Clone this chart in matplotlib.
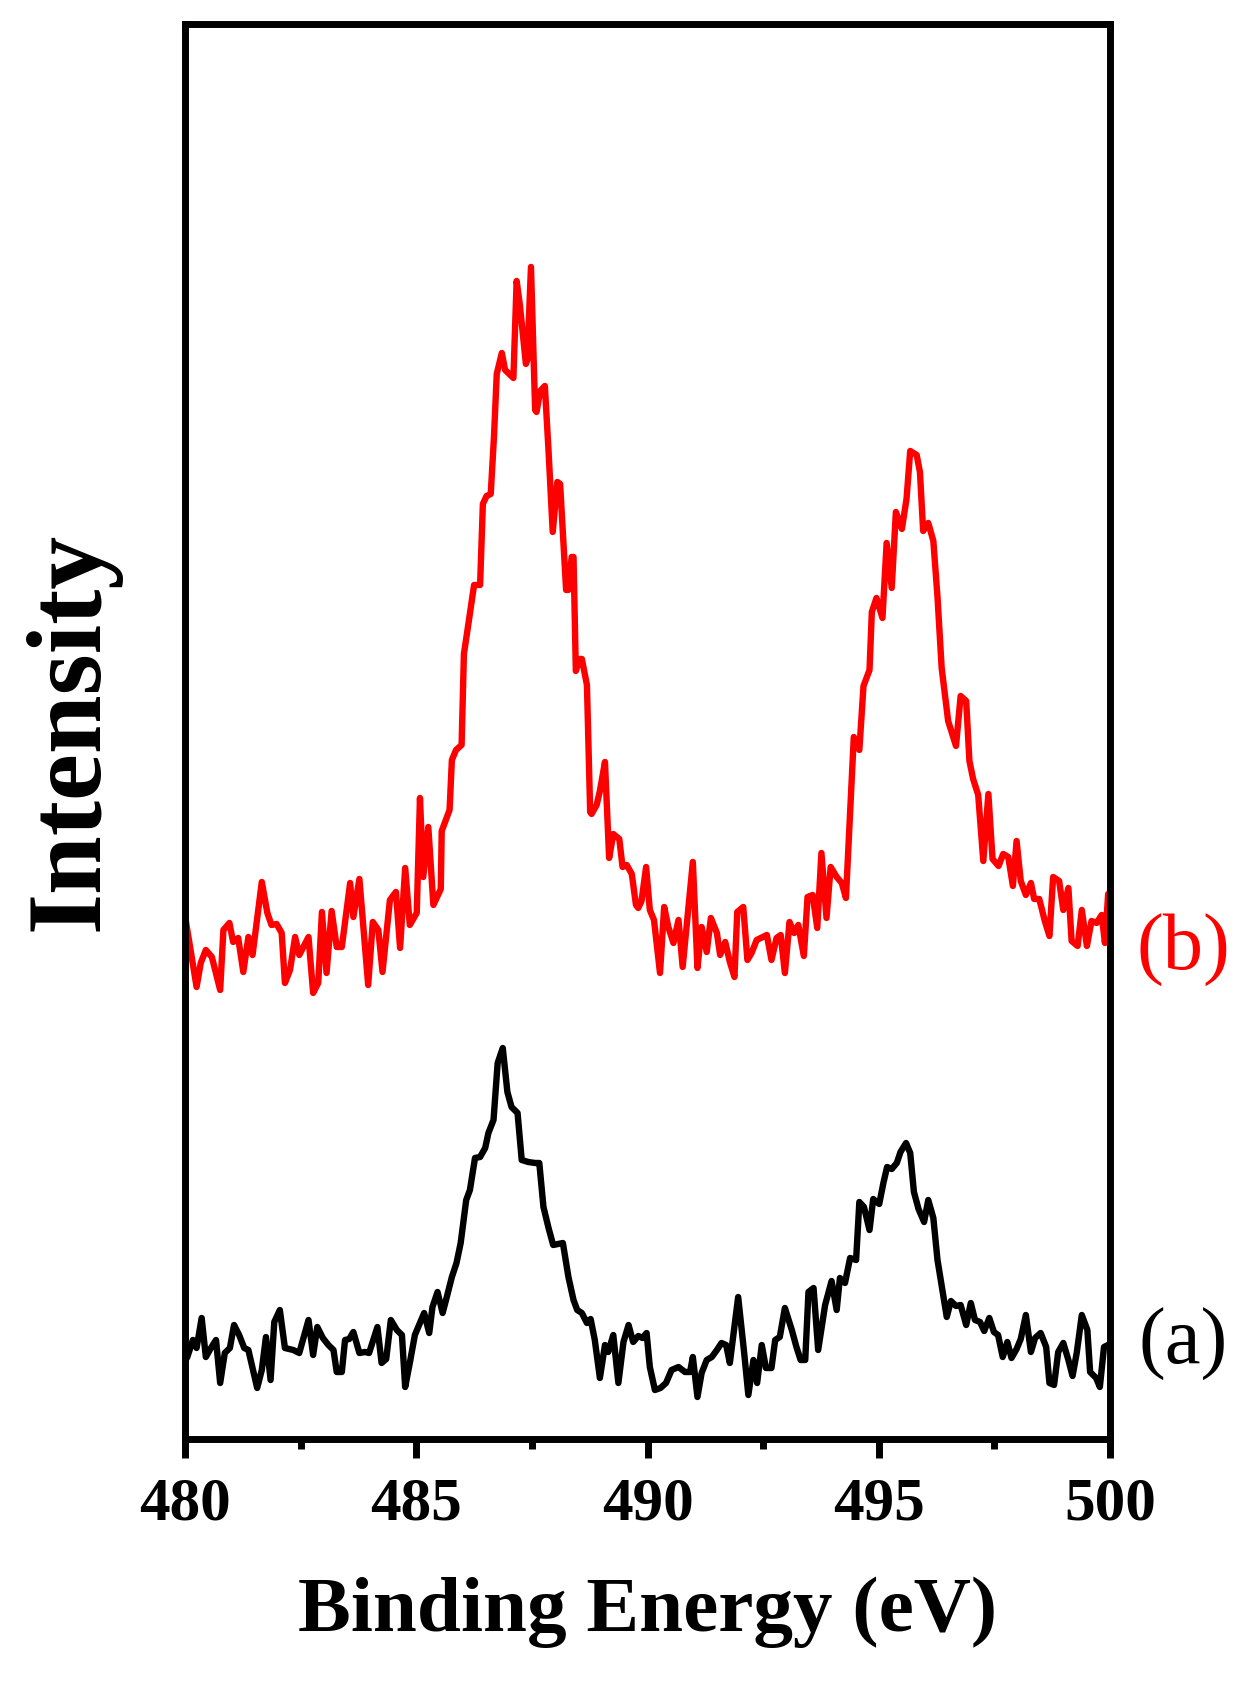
import matplotlib
matplotlib.use("Agg")
import matplotlib.pyplot as plt
from matplotlib.ticker import MultipleLocator

# ---- data (binding energy in eV, intensity in arbitrary units) ----
energy_b = [480.00, 480.25, 480.34, 480.45, 480.58, 480.76, 480.83, 480.96, 481.04, 481.15,
            481.26, 481.37, 481.46, 481.66, 481.78, 481.87, 481.98, 482.09, 482.16, 482.27,
            482.38, 482.47, 482.67, 482.77, 482.88, 482.96, 483.06, 483.17, 483.28, 483.39,
            483.57, 483.64, 483.77, 483.96, 484.06, 484.18, 484.27, 484.43, 484.56, 484.65,
            484.76, 484.86, 485.01, 485.08, 485.15, 485.26, 485.37, 485.53, 485.55, 485.72,
            485.77, 485.86, 485.98, 486.03, 486.13, 486.25, 486.38, 486.44, 486.52, 486.61,
            486.68, 486.74, 486.85, 486.92, 487.10, 487.17, 487.24, 487.37, 487.40, 487.48,
            487.57, 487.60, 487.68, 487.78, 487.86, 487.95, 488.05, 488.11, 488.24, 488.29,
            488.36, 488.40, 488.45, 488.53, 488.58, 488.69, 488.76, 488.79, 488.90, 488.97,
            489.08, 489.17, 489.26, 489.39, 489.46, 489.55, 489.66, 489.75, 489.80, 489.87,
            489.97, 490.05, 490.14, 490.27, 490.36, 490.45, 490.56, 490.67, 490.76, 490.98,
            491.08, 491.17, 491.28, 491.37, 491.50, 491.57, 491.68, 491.78, 491.88, 491.94,
            492.07, 492.16, 492.25, 492.36, 492.58, 492.68, 492.79, 492.88, 492.97, 493.07,
            493.17, 493.26, 493.38, 493.46, 493.57, 493.67, 493.76, 493.87, 493.96, 494.09,
            494.20, 494.29, 494.46, 494.58, 494.67, 494.80, 494.85, 494.95, 495.08, 495.17,
            495.28, 495.37, 495.50, 495.60, 495.68, 495.82, 495.89, 495.96, 496.07, 496.18,
            496.27, 496.36, 496.50, 496.67, 496.77, 496.89, 496.96, 497.04, 497.15, 497.26,
            497.37, 497.46, 497.59, 497.69, 497.80, 497.90, 497.98, 498.07, 498.18, 498.29,
            498.36, 498.47, 498.59, 498.69, 498.77, 498.90, 498.99, 499.10, 499.17, 499.30,
            499.39, 499.50, 499.60, 499.71, 499.82, 499.89, 499.96, 500.00]
intensity_b = [523, 452, 476, 489, 482, 449, 509, 516, 497, 501,
               467, 502, 484, 557, 526, 514, 515, 506, 456, 469,
               502, 484, 502, 446, 456, 527, 466, 528, 492, 492,
               556, 522, 560, 454, 517, 509, 467, 539, 547, 491,
               571, 514, 526, 641, 562, 612, 534, 550, 608, 629,
               679, 689, 694, 785, 816, 854, 854, 935, 943, 945,
               1002, 1065, 1086, 1069, 1061, 1158, 1134, 1075, 1079, 1172,
               1029, 1027, 1048, 1053, 988, 907, 957, 955, 849, 849,
               882, 882, 768, 780, 780, 754, 627, 625, 634, 648,
               677, 581, 605, 600, 572, 574, 565, 534, 531, 538,
               572, 529, 519, 466, 532, 512, 496, 519, 472, 577,
               471, 512, 487, 521, 506, 484, 497, 477, 462, 527,
               532, 479, 486, 499, 504, 479, 501, 504, 466, 517,
               506, 514, 483, 542, 544, 511, 586, 521, 572, 562,
               556, 541, 702, 689, 753, 769, 827, 841, 821, 896,
               851, 927, 910, 940, 988, 984, 967, 908, 916, 898,
               842, 771, 718, 693, 743, 738, 678, 660, 644, 578,
               645, 580, 573, 585, 582, 553, 598, 558, 544, 556,
               540, 540, 518, 503, 562, 558, 529, 551, 498, 493,
               529, 493, 518, 516, 524, 496, 545, 530]

energy_a = [480.00, 480.05, 480.17, 480.25, 480.36, 480.45, 480.56, 480.67, 480.76, 480.86,
            480.97, 481.06, 481.17, 481.28, 481.37, 481.56, 481.66, 481.75, 481.85, 481.93,
            482.05, 482.16, 482.34, 482.47, 482.67, 482.77, 482.86, 482.98, 483.10, 483.21,
            483.28, 483.39, 483.46, 483.55, 483.64, 483.77, 483.89, 483.98, 484.16, 484.25,
            484.35, 484.45, 484.58, 484.69, 484.76, 484.86, 484.97, 485.08, 485.17, 485.28,
            485.35, 485.46, 485.57, 485.66, 485.77, 485.87, 485.96, 486.08, 486.16, 486.27,
            486.38, 486.49, 486.56, 486.67, 486.76, 486.87, 486.97, 487.06, 487.19, 487.28,
            487.42, 487.57, 487.66, 487.75, 487.86, 487.96, 488.17, 488.29, 488.40, 488.48,
            488.58, 488.69, 488.77, 488.86, 488.97, 489.08, 489.15, 489.26, 489.37, 489.48,
            489.59, 489.69, 489.80, 489.89, 489.98, 490.05, 490.16, 490.28, 490.40, 490.52,
            490.67, 490.81, 490.92, 490.98, 491.08, 491.17, 491.28, 491.39, 491.50, 491.60,
            491.70, 491.78, 491.96, 492.09, 492.18, 492.29, 492.37, 492.47, 492.56, 492.68,
            492.76, 492.86, 492.97, 493.12, 493.22, 493.31, 493.41, 493.48, 493.59, 493.69,
            493.84, 493.98, 494.09, 494.16, 494.27, 494.38, 494.51, 494.58, 494.68, 494.80,
            494.88, 495.01, 495.10, 495.18, 495.28, 495.39, 495.47, 495.59, 495.68, 495.76,
            495.86, 495.98, 496.07, 496.18, 496.27, 496.40, 496.47, 496.56, 496.67, 496.77,
            496.89, 496.99, 497.08, 497.19, 497.28, 497.39, 497.49, 497.58, 497.68, 497.78,
            497.87, 497.98, 498.07, 498.18, 498.29, 498.38, 498.50, 498.62, 498.69, 498.79,
            498.88, 498.99, 499.10, 499.19, 499.28, 499.39, 499.51, 499.57, 499.70, 499.78,
            499.87, 500.00]
intensity_a = [78, 82, 99, 91, 121, 82, 91, 99, 56, 86,
               91, 114, 104, 91, 89, 51, 69, 102, 59, 117,
               129, 91, 89, 86, 119, 84, 112, 101, 94, 89,
               67, 67, 99, 100, 107, 86, 87, 86, 112, 76,
               80, 119, 109, 104, 52, 76, 104, 116, 126, 106,
               132, 147, 126, 142, 162, 176, 196, 239, 249, 281,
               282, 291, 306, 319, 376, 391, 347, 332, 326, 279,
               277, 276, 276, 232, 211, 194, 196, 162, 139, 129,
               126, 116, 120, 99, 61, 94, 87, 104, 56, 97,
               114, 97, 103, 101, 106, 72, 49, 51, 56, 69,
               72, 67, 67, 82, 42, 66, 79, 82, 89, 96,
               94, 76, 142, 86, 44, 79, 56, 94, 71, 71,
               99, 102, 131, 109, 92, 79, 79, 147, 151, 89,
               134, 158, 129, 161, 156, 181, 179, 237, 232, 209,
               240, 235, 256, 272, 270, 276, 287, 296, 286, 247,
               230, 217, 239, 221, 179, 142, 122, 138, 133, 134,
               114, 136, 119, 117, 108, 121, 107, 104, 82, 97,
               81, 90, 100, 124, 87, 101, 106, 92, 56, 54,
               87, 96, 79, 63, 86, 124, 109, 67, 61, 52,
               92, 95]

series_labels = ["(a)", "(b)"]
series_colors = ["black", "red"]
x_ticks = [480, 485, 490, 495, 500]
x_label = "Binding Energy (eV)"
y_label = "Intensity"

# ---- figure ----
serif = ["Liberation Serif", "DejaVu Serif"]
plt.rcParams["font.family"] = serif

fig = plt.figure(figsize=(12.51, 16.86), dpi=100)
ax = fig.add_axes([0.1479, 0.1465, 0.8873 - 0.1479, 0.9858 - 0.1465])

ax.plot(energy_a, intensity_a, color=series_colors[0], lw=4.6, solid_joinstyle="round")
ax.plot(energy_b, intensity_b, color=series_colors[1], lw=4.6, solid_joinstyle="round")

ax.set_xlim(480, 500)
ax.set_ylim(0, 1415)

ax.set_xticks(x_ticks)
ax.xaxis.set_minor_locator(MultipleLocator(2.5))
ax.set_yticks([])
ax.tick_params(axis="x", which="major", direction="out", length=14, width=5,
               pad=13, labelsize=44)
ax.tick_params(axis="x", which="minor", direction="out", length=7, width=5)
for lab in ax.get_xticklabels():
    lab.set_fontweight("bold")

for sp in ax.spines.values():
    sp.set_linewidth(5)

ax.set_xlabel(x_label, fontsize=57, fontweight="bold")
ax.xaxis.set_label_coords(0.5, -0.097)
ax.xaxis.label.set_va("top")
ax.set_ylabel(y_label, fontsize=76, fontweight="bold")
ax.yaxis.set_label_coords(-0.070, 0.5)

ax.text(1.079, 0.0665, series_labels[0], color=series_colors[0], fontsize=58,
        transform=ax.transAxes, ha="center", va="center", clip_on=False)
ax.text(1.079, 0.345, series_labels[1], color=series_colors[1], fontsize=58,
        transform=ax.transAxes, ha="center", va="center", clip_on=False)

fig.savefig("out.png", dpi=100)
